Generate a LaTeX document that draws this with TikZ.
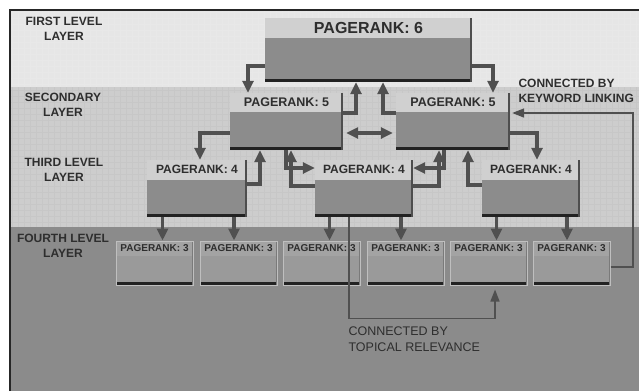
\documentclass[tikz,border=0pt]{standalone}
\usepackage{fontspec}
\setmainfont{Liberation Sans}
\usetikzlibrary{arrows.meta}
\definecolor{paper}{HTML}{E6E6E6}
\definecolor{midband}{HTML}{CDCDCD}
\definecolor{lowband}{HTML}{8B8B8B}
\definecolor{bodygray}{HTML}{8C8C8C}
\definecolor{headgray}{HTML}{D0D0D0}
\definecolor{leafgray}{HTML}{9A9A9A}
\definecolor{shadegray}{HTML}{222222}
\definecolor{inkgray}{HTML}{2E2E2E}
\definecolor{wiregray}{HTML}{505050}

\begin{document}
\begin{tikzpicture}[x=1pt, y=-1pt,
  >={Triangle[length=12pt, width=11pt]},
  rank/.style={rectangle, inner sep=0pt, fill=bodygray,
    path picture={
      \fill[headgray] (path picture bounding box.north west) rectangle ([yshift=-#1]path picture bounding box.north east);
      \fill[shadegray] (path picture bounding box.south west) rectangle ([yshift=3.5pt]path picture bounding box.south east);
      \fill[shadegray!80] (path picture bounding box.north east) rectangle ([xshift=-2pt]path picture bounding box.south east);}},
  leaf/.style={rectangle, inner sep=0pt, fill=leafgray, draw=black!25, line width=1pt,
    minimum width=77pt, minimum height=44pt,
    path picture={
      \fill[black!36] (path picture bounding box.north west) rectangle ([yshift=-15pt]path picture bounding box.north east);
      \fill[shadegray] (path picture bounding box.south west) rectangle ([yshift=3pt]path picture bounding box.south east);
      \fill[shadegray!60] (path picture bounding box.north east) rectangle ([xshift=-1.5pt]path picture bounding box.south east);}},
  head/.style={anchor=center, yshift=-#1, inner sep=0pt, text=inkgray},
  layer/.style={align=center, text=inkgray, font=\bfseries\fontsize{12}{15}\selectfont},
  link/.style={->, line width=3.4pt, draw=wiregray},
  thinlink/.style={->, line width=1.6pt, draw=wiregray, >={Triangle[length=12pt, width=9pt]}}]
  \useasboundingbox (0,0) rectangle (639,391);
  % Layer bands
  \fill[white] (0,0) rectangle (639,391);
  \fill[paper] (11,11) rectangle (639,87);
  \fill[midband] (11,87) rectangle (639,227);
  \fill[lowband] (11,227) rectangle (639,391);
  \draw[black!9, line width=0.3pt, step=6pt] (11,11) grid (639,87);
  \draw[black!22, line width=0.3pt, step=6pt] (11,87) grid (639,227);
  \draw[black!85, line width=1.2pt] (10,391) -- (10,10) -- (639,10);
  % Layer names
  \node[layer] (l1) at (64,29) {FIRST LEVEL\\LAYER};
  \node[layer] (l2) at (63,105) {SECONDARY\\LAYER};
  \node[layer] (l3) at (64,170) {THIRD LEVEL\\LAYER};
  \node[layer] (l4) at (63,246) {FOURTH LEVEL\\LAYER};
  % Pages
  \node[rank=20pt, minimum width=207pt, minimum height=64pt,
    label={[head=10pt, font=\bfseries\fontsize{16}{16}\selectfont]north:{PAGERANK: 6}}] (p6) at (368.5,50) {};
  \node[rank=19pt, minimum width=113pt, minimum height=57pt,
    label={[head=9.5pt, font=\bfseries\fontsize{12.5}{12.5}\selectfont]north:{PAGERANK: 5}}] (p5a) at (286.5,121.5) {};
  \node[rank=19pt, minimum width=114pt, minimum height=57pt,
    label={[head=9.5pt, font=\bfseries\fontsize{12.5}{12.5}\selectfont]north:{PAGERANK: 5}}] (p5b) at (453,121.5) {};
  \node[rank=20pt, minimum width=100pt, minimum height=57pt,
    label={[head=10pt, font=\bfseries\fontsize{12}{12}\selectfont]north:{PAGERANK: 4}}] (p4a) at (197,188.5) {};
  \node[rank=20pt, minimum width=98pt, minimum height=57pt,
    label={[head=10pt, font=\bfseries\fontsize{12}{12}\selectfont]north:{PAGERANK: 4}}] (p4b) at (364,188.5) {};
  \node[rank=20pt, minimum width=98pt, minimum height=57pt,
    label={[head=10pt, font=\bfseries\fontsize{12}{12}\selectfont]north:{PAGERANK: 4}}] (p4c) at (531,188.5) {};
  \foreach \i/\x in {1/154.5, 2/238.5, 3/321.5, 4/405.5, 5/488.5, 6/571.5}
    \node[leaf, label={[head=8pt, font=\bfseries\fontsize{10}{10}\selectfont]north:{PAGERANK: 3}}] (p3\i) at (\x,263) {};
  % Links between first and second layer
  \draw[link] ([yshift=-16pt]p6.west) -| ([xshift=-38.5pt]p5a.north);
  \draw[link] ([yshift=-16pt]p6.east) -| ([xshift=40pt]p5b.north);
  \draw[link] ([yshift=8.5pt]p5a.east) -| ([xshift=-12.5pt]p6.south);
  \draw[link] ([yshift=8.5pt]p5b.west) -| ([xshift=14.5pt]p6.south);
  \draw[link, <->, shorten <=3pt, shorten >=3pt] ([yshift=-11.5pt]p5a.east) -- ([yshift=-11.5pt]p5b.west);
  % Links between second and third layer
  \draw[link] ([yshift=-11.5pt]p5a.west) -| ([xshift=3pt]p4a.north);
  \draw[link] ([yshift=-11.5pt]p5b.east) -| ([xshift=6pt]p4c.north);
  \draw[link] ([yshift=4.5pt]p4a.east) -| ([xshift=-26.5pt]p5a.south);
  \draw[link] ([xshift=-0.5pt]p5a.south) |- ([yshift=20.5pt]p4b.west);
  \draw[link] ([yshift=2.5pt]p4b.west) -| ([xshift=4.5pt]p5a.south);
  \draw[link] ([xshift=-9pt]p5b.south) |- ([yshift=20.5pt]p4b.east);
  \draw[link] ([yshift=2.5pt]p4b.east) -| ([xshift=-14pt]p5b.south);
  \draw[link] ([yshift=3.5pt]p4c.west) -| ([xshift=15pt]p5b.south);
  % Links down to the fourth layer
  \foreach \up/\dn/\dx in {p4a/p31/8, p4a/p32/-4.5, p4b/p33/8, p4b/p34/-4.5, p4c/p35/8, p4c/p36/-4.5}
    \draw[link] ([xshift=\dx pt]\dn.north |- \up.south) -- ([xshift=\dx pt]\dn.north);
  % Topical relevance
  \draw[thinlink, shorten >=4pt] ([xshift=-15pt]p4b.south) |- ([xshift=6.5pt, yshift=-33pt]p35.south) -- ([xshift=6.5pt]p35.south);
  \node[anchor=west, align=left, text=inkgray, font=\fontsize{12.5}{15.5}\selectfont] (topic) at (345,339) {CONNECTED BY\\TOPICAL RELEVANCE};
  % Keyword linking
  \coordinate (kwturn) at (633,113);
  \draw[thinlink, shorten >=2pt] ([yshift=-4pt]p36.east) -| (kwturn) -- ([yshift=8.5pt]p5b.east);
  \node[anchor=west, align=left, text=inkgray, font=\bfseries\fontsize{12}{14.5}\selectfont] (keyword) at (515,91) {CONNECTED BY\\KEYWORD LINKING};
\end{tikzpicture}
\end{document}
